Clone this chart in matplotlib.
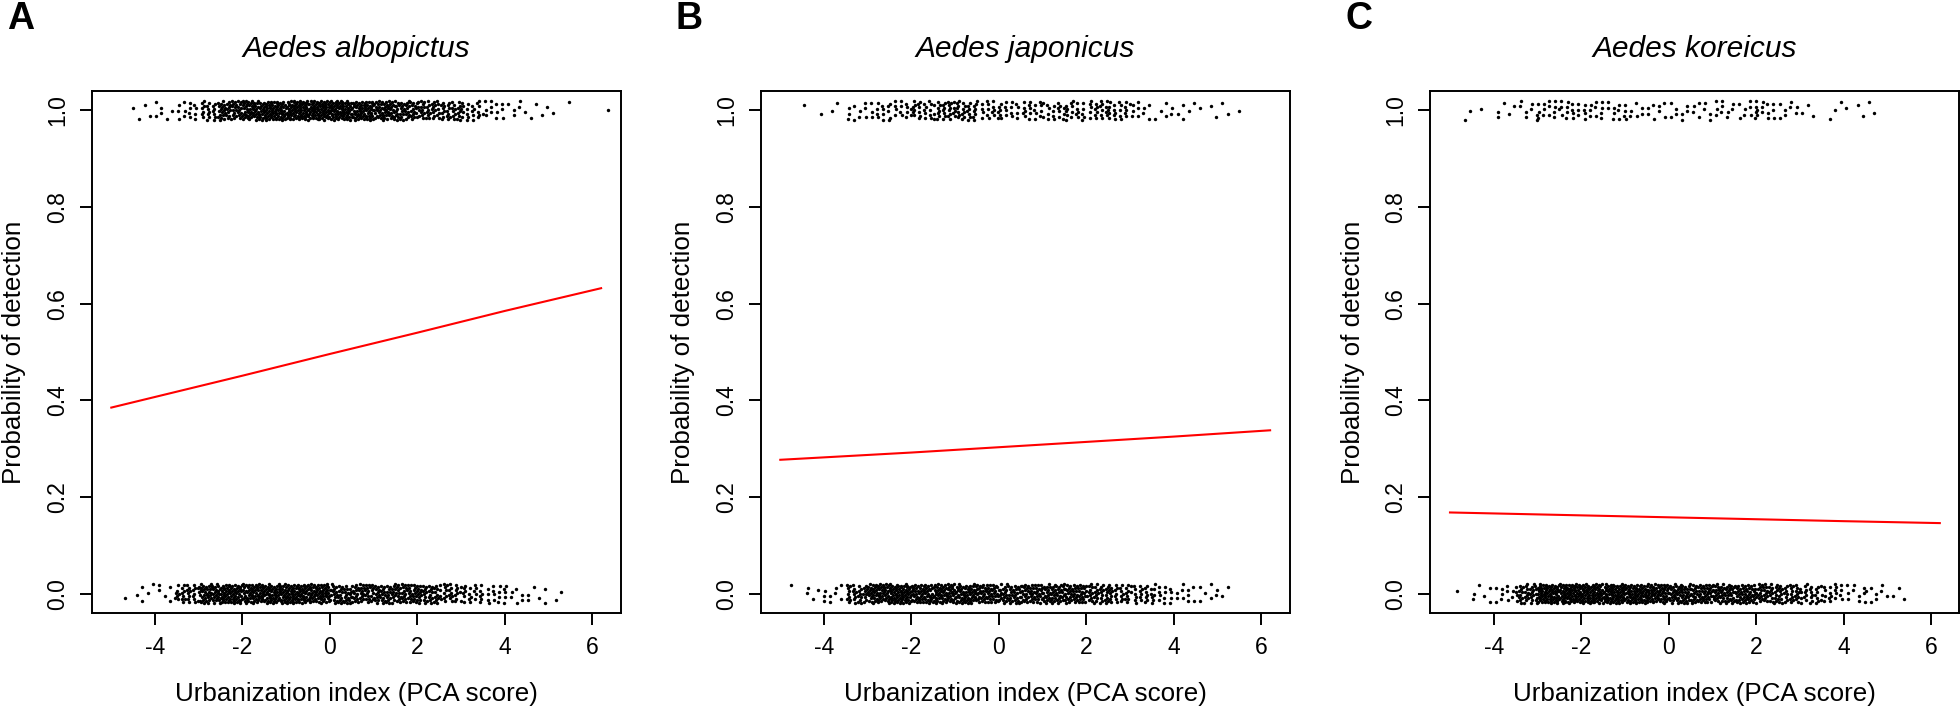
import numpy as np
import matplotlib
matplotlib.use("Agg")
import matplotlib.pyplot as plt

plt.rcParams['font.family'] = ['Liberation Sans', 'DejaVu Sans']

# ---------------- data ----------------
panel_letters = ["A", "B", "C"]
species = ["Aedes albopictus", "Aedes japonicus", "Aedes koreicus"]
x_label = "Urbanization index (PCA score)"
y_label = "Probability of detection"
x_ticks = [-4, -2, 0, 2, 4, 6]
y_ticks = [0.0, 0.2, 0.4, 0.6, 0.8, 1.0]

# number of sites per 0.5-wide bin of urbanization index, bins start at -5.0
bin_left = -5.0
bin_width = 0.5
albo_detected = [0, 4, 6, 14, 28, 45, 60, 65, 70, 70, 68, 62, 55, 45, 38, 32, 22, 12, 6, 4, 2, 0, 1]
albo_absent = [1, 5, 7, 30, 55, 60, 60, 62, 65, 60, 45, 45, 45, 45, 40, 30, 22, 15, 8, 6, 2, 0, 0]
japo_detected = [0, 2, 2, 10, 14, 16, 22, 30, 28, 18, 16, 18, 18, 20, 22, 20, 10, 6, 5, 3, 3, 0, 0]
japo_absent = [1, 5, 8, 35, 60, 65, 55, 60, 58, 50, 45, 48, 50, 48, 38, 30, 25, 16, 10, 7, 2, 0, 0]
kore_detected = [2, 1, 5, 8, 14, 14, 14, 10, 8, 8, 8, 8, 10, 10, 12, 8, 3, 3, 3, 2, 0, 0, 0]
kore_absent = [1, 6, 10, 40, 68, 72, 68, 70, 65, 60, 55, 52, 52, 50, 42, 35, 28, 18, 10, 8, 3, 0, 0]

# fitted probability curves
curve_x = [-5.0, -2.0, 0.0, 2.0, 4.0, 6.2]
albo_curve = [0.385, 0.451, 0.496, 0.540, 0.585, 0.632]
japo_curve = [0.277, 0.292, 0.303, 0.314, 0.325, 0.338]
kore_curve = [0.168, 0.162, 0.158, 0.154, 0.150, 0.146]

detected = [albo_detected, japo_detected, kore_detected]
absent = [albo_absent, japo_absent, kore_absent]
curves = [albo_curve, japo_curve, kore_curve]

# ---------------- helpers ----------------
JIT = 0.02
A1, A2 = 0.7548776662466927, 0.5698402909980532  # low-discrepancy jitter


def spread(counts, y0, k0):
    xs, ys = [], []
    k = k0
    for i, c in enumerate(counts):
        lo = bin_left + i * bin_width
        for _ in range(c):
            k += 1
            xs.append(lo + bin_width * ((0.5 + k * A1) % 1.0))
            ys.append(y0 + JIT * (2 * ((0.5 + k * A2) % 1.0) - 1))
    return xs, ys


W, H = 1960, 706
fig = plt.figure(figsize=(W / 100, H / 100), dpi=100)

ax_w = 529 / W
ax_h = 522 / H
ax_b = 1 - 613 / H
lefts = [91.7 / W, 760.7 / W, 1430.4 / W]

xlo, xhi = min(curve_x), max(curve_x)
xpad = 0.04 * (xhi - xlo)

for p in range(3):
    ax = fig.add_axes([lefts[p], ax_b, ax_w, ax_h])
    x1, y1 = spread(detected[p], 1.0, 17 * p)
    x0, y0 = spread(absent[p], 0.0, 17 * p + 5000)
    ax.scatter(x1, y1, s=6, c="black", linewidths=0)
    ax.scatter(x0, y0, s=6, c="black", linewidths=0)
    ax.plot(curve_x, curves[p], color="#ff0000", lw=1.5)

    ax.set_xlim(xlo - xpad, xhi + xpad)
    ax.set_ylim(-0.04, 1.04)
    ax.set_xticks(x_ticks)
    ax.set_xticklabels([str(t) for t in x_ticks])
    ax.set_yticks(y_ticks)
    ax.set_yticklabels([f"{t:.1f}" for t in y_ticks])
    for s in ax.spines.values():
        s.set_linewidth(1.4)
    ax.tick_params(axis="both", direction="out", length=8.4, width=1.4,
                   labelsize=16.5, pad=8)
    ax.tick_params(axis="y", labelrotation=90)
    for lab in ax.get_yticklabels():
        lab.set_va("center")

    ax.set_xlabel(x_label, fontsize=18.7, va="baseline")
    ax.xaxis.set_label_coords(0.5, (613 - 701.5) / 522)
    ax.set_ylabel(y_label, fontsize=18.7, va="baseline")
    ax.yaxis.set_label_coords(-70.7 / 529, 0.5)

    ax.text(0.5, 1 + (91 - 57) / 522, species[p], transform=ax.transAxes,
            ha="center", va="baseline", style="italic", fontsize=21.5)

    fig.text(lefts[p] - 85 / W, 1 - 29.3 / H, panel_letters[p],
             ha="left", va="baseline", fontsize=27, fontweight="bold")

fig.savefig("out.png", dpi=100)
